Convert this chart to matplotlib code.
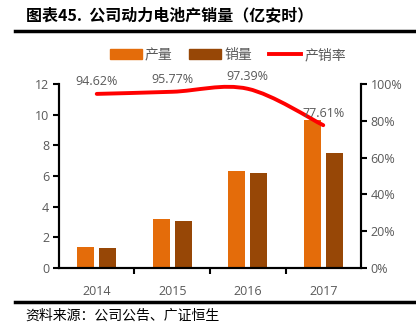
import matplotlib.pyplot as plt
import numpy as np
from matplotlib.path import Path
from matplotlib.patches import PathPatch, Patch
from matplotlib.lines import Line2D

plt.rcParams['font.family'] = ['Open Sans', 'Noto Sans CJK SC', 'DejaVu Sans']

years = ['2014', '2015', '2016', '2017']
production = [1.37, 3.20, 6.33, 9.65]
sales = [1.30, 3.07, 6.17, 7.49]
ratio = [0.9462, 0.9577, 0.9739, 0.7761]
ratio_labels = ['94.62%', '95.77%', '97.39%', '77.61%']

orange = '#E46C0A'
brown = '#974706'
grey = '#595959'
cjk = ['Noto Sans CJK SC', 'DejaVu Sans']

fig = plt.figure(figsize=(4.16, 3.32), dpi=100)
ax = fig.add_axes([0.1418, 0.1928, 0.726, 0.5542])
ax2 = ax.twinx()

x = np.arange(len(years))
w = 0.225
gap = 0.035
ax.bar(x - w / 2 - gap, production, w, color=orange, zorder=2)
ax.bar(x + w / 2 + gap, sales, w, color=brown, zorder=2)

ax.set_xlim(-0.5, 3.5)
ax.set_ylim(0, 12)
ax.set_yticks(range(0, 13, 2))
ax.set_xticks(x)
ax.set_xticklabels(years)
ax.set_xticks([0.5, 1.5, 2.5], minor=True)
ax.tick_params(axis='x', which='major', length=0, pad=12, labelcolor=grey, labelsize=9)
ax.tick_params(axis='x', which='minor', length=4, width=1.5, direction='out')
ax.tick_params(axis='y', length=4, width=1.5, labelcolor=grey, labelsize=9, pad=3)

ax2.set_ylim(0, 1)
ax2.set_yticks(np.arange(0, 1.01, 0.2))
ax2.set_yticklabels(['0%', '20%', '40%', '60%', '80%', '100%'])
ax2.tick_params(axis='y', length=4, width=1.5, labelcolor=grey, labelsize=9, pad=3)

for a in (ax, ax2):
    a.spines['top'].set_visible(False)
    for s in ('left', 'right', 'bottom'):
        a.spines[s].set_linewidth(1.5)
        a.spines[s].set_color('black')

# smoothed line through the data points (Catmull-Rom style Bezier)
pts = np.column_stack([x, ratio])
verts = [pts[0]]
codes = [Path.MOVETO]
n = len(pts)
for i in range(n - 1):
    p0 = pts[max(i - 1, 0)]
    p1 = pts[i]
    p2 = pts[i + 1]
    p3 = pts[min(i + 2, n - 1)]
    verts += [p1 + (p2 - p0) / 6, p2 - (p3 - p1) / 6, p2]
    codes += [Path.CURVE4] * 3
ax2.add_patch(PathPatch(Path(verts, codes), fill=False, edgecolor='#FF0000',
                        linewidth=2.8, capstyle='round', zorder=3))

for xi, r, lab in zip(x, ratio, ratio_labels):
    ax2.annotate(lab, (xi, r), xytext=(0, 4), textcoords='offset points',
                 ha='center', va='bottom', color=grey, fontsize=9)

handles = [Patch(color=orange), Patch(color=brown),
           Line2D([], [], color='#FF0000', linewidth=2.8)]
fig.legend(handles, ['产量', '销量', '产销率'], loc='center', ncol=3,
           bbox_to_anchor=(0.548, 0.834), frameon=False, handlelength=2.3,
           handleheight=0.7, columnspacing=1.2, handletextpad=0.25,
           prop={'family': cjk, 'size': 10}, labelcolor=grey)

fig.text(0.062, 0.955, '图表45.  公司动力电池产销量（亿安时）', family=cjk,
         fontsize=11.5, fontweight='bold', va='center')
fig.add_artist(Line2D([0.036, 1.0], [0.906, 0.906], color='black', linewidth=2.5))
fig.add_artist(Line2D([0.036, 1.0], [0.09, 0.09], color='black', linewidth=2.5))
fig.text(0.062, 0.05, '资料来源：公司公告、广证恒生', family=cjk, fontsize=10,
         va='center')

fig.savefig('out.png', dpi=100)
